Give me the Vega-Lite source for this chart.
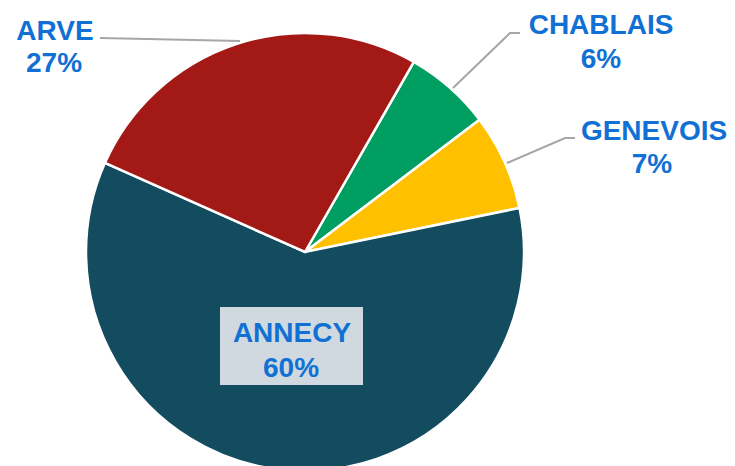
{
  "$schema": "https://vega.github.io/schema/vega-lite/v6.json",
  "width": 735,
  "height": 466,
  "autosize": "none",
  "padding": 0,
  "background": "white",
  "config": {"view": {"stroke": null}},
  "datasets": {
    "slices": [
      {"region": "CHABLAIS", "value": 6.4, "ord": 1, "cx": 0, "cy": 0},
      {"region": "GENEVOIS", "value": 7.1, "ord": 2, "cx": 0, "cy": 0},
      {"region": "ANNECY", "value": 59.9, "ord": 3, "cx": 0, "cy": 0},
      {"region": "ARVE", "value": 26.6, "ord": 4, "cx": 0, "cy": 0}
    ],
    "labels": [
      {"text": "ARVE", "lx": -250, "ly": 212},
      {"text": "27%", "lx": -251, "ly": 180},
      {"text": "CHABLAIS", "lx": 296, "ly": 218},
      {"text": "6%", "lx": 296, "ly": 184},
      {"text": "GENEVOIS", "lx": 349, "ly": 112},
      {"text": "7%", "lx": 347, "ly": 79},
      {"text": "ANNECY", "lx": -13, "ly": -90},
      {"text": "60%", "lx": -14, "ly": -125}
    ],
    "leaders": [
      {"g": "ARVE", "s": 1, "px": -205, "py": 214},
      {"g": "ARVE", "s": 2, "px": -65, "py": 211},
      {"g": "CHABLAIS", "s": 1, "px": 148, "py": 164},
      {"g": "CHABLAIS", "s": 2, "px": 205, "py": 219},
      {"g": "CHABLAIS", "s": 3, "px": 215, "py": 219},
      {"g": "GENEVOIS", "s": 1, "px": 202, "py": 89},
      {"g": "GENEVOIS", "s": 2, "px": 260, "py": 114},
      {"g": "GENEVOIS", "s": 3, "px": 270, "py": 114}
    ],
    "box": [
      {"x1": -85, "x2": 58, "y1": -55, "y2": -133}
    ]
  },
  "layer": [
    {
      "data": {"name": "slices"},
      "mark": {"type": "arc", "outerRadius": 219, "stroke": "white", "strokeWidth": 2.5},
      "encoding": {
        "x": {"field": "cx", "type": "quantitative", "scale": {"domain": [-305, 430], "nice": false, "zero": false}, "axis": null},
        "y": {"field": "cy", "type": "quantitative", "scale": {"domain": [-214, 252], "nice": false, "zero": false}, "axis": null},
        "theta": {"field": "value", "type": "quantitative", "stack": true, "scale": {"range": [0.52, 6.8032]}},
        "order": {"field": "ord", "type": "quantitative"},
        "color": {
          "field": "region", "type": "nominal", "legend": null,
          "scale": {"domain": ["ANNECY", "ARVE", "CHABLAIS", "GENEVOIS"], "range": ["#134b5f", "#a31915", "#009e60", "#ffc000"]}
        }
      }
    },
    {
      "data": {"name": "leaders"},
      "mark": {"type": "line", "stroke": "#a6a6a6", "strokeWidth": 2},
      "encoding": {
        "x": {"field": "px", "type": "quantitative"},
        "y": {"field": "py", "type": "quantitative"},
        "detail": {"field": "g"},
        "order": {"field": "s", "type": "quantitative"}
      }
    },
    {
      "data": {"name": "box"},
      "mark": {"type": "rect", "fill": "#d0d9df"},
      "encoding": {
        "x": {"field": "x1", "type": "quantitative"},
        "x2": {"field": "x2"},
        "y": {"field": "y1", "type": "quantitative"},
        "y2": {"field": "y2"}
      }
    },
    {
      "data": {"name": "labels"},
      "mark": {"type": "text", "font": "Liberation Sans", "fontWeight": "bold", "fontSize": 28, "align": "center", "baseline": "alphabetic", "fill": "#1170d4"},
      "encoding": {
        "x": {"field": "lx", "type": "quantitative"},
        "y": {"field": "ly", "type": "quantitative"},
        "text": {"field": "text"}
      }
    }
  ]
}
